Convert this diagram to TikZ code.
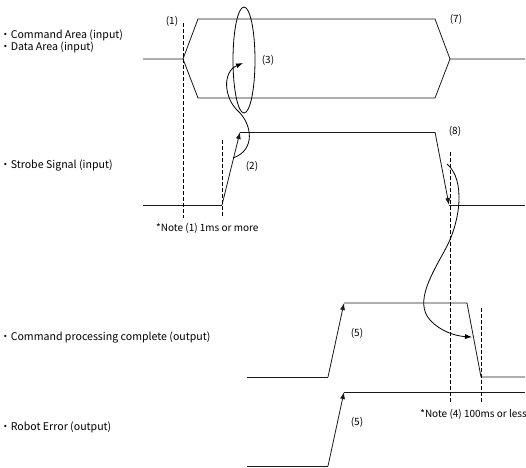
\documentclass[tikz,border=0pt]{standalone}
\usepackage{fontspec}
\setmainfont{Noto Sans CJK JP}
\usetikzlibrary{arrows.meta}

\tikzset{
  wave/.style={line width=0.8pt, black!90},
  guide/.style={line width=0.7pt, dash pattern=on 3.5pt off 2.5pt},
  tip/.style={-{Latex[length=7pt,width=5pt]}},
  sig/.style={anchor=west, inner sep=0pt, font=\fontsize{10.6}{12}\selectfont},
  note/.style={anchor=west, inner sep=0pt, font=\fontsize{10}{12}\selectfont},
  steplbl/.style={inner sep=0pt, font=\fontsize{10}{12}\selectfont},
}

\begin{document}
\begin{tikzpicture}[x=1pt, y=-1pt]
  \useasboundingbox (0,0) rectangle (526,467);

  % signal names
  \node[sig] (nCmd)  at (0,35)  {・Command Area (input)};
  \node[sig] (nData) at (0,47)  {・Data Area (input)};
  \node[sig] (nStb)  at (0,165) {・Strobe Signal (input)};
  \node[sig] (nDone) at (0,337) {・Command processing complete (output)};
  \node[sig] (nErr)  at (0,427) {・Robot Error (output)};

  % command / data area
  \draw[wave] (143,59) -- (183,59) -- (198,19) -- (435,19) -- (450,59) -- (525,59);
  \draw[wave] (183,59) -- (198,98) -- (435,98) -- (450,59);

  % strobe signal
  \coordinate (sLow) at (222,205);
  \coordinate (sUp)  at (240,132);
  \coordinate (sTop) at (435,132);
  \coordinate (sOff) at (449,205);
  \draw[wave] (143,205) -- (sLow);
  \draw[wave, tip] (sLow) -- (sUp);
  \draw[wave] (sUp) -- (sTop);
  \draw[wave, tip] (sTop) -- (sOff);
  \draw[wave] (sOff) -- (525,205);

  % command processing complete
  \coordinate (cLow) at (328,377);
  \coordinate (cUp)  at (344,303);
  \draw[wave] (247,377) -- (cLow);
  \draw[wave, tip] (cLow) -- (cUp);
  \draw[wave] (cUp) -- (467,303) -- (481,377) -- (525,377);

  % robot error
  \coordinate (eLow) at (328,466);
  \coordinate (eUp)  at (344,392);
  \draw[wave] (247,466) -- (eLow);
  \draw[wave, tip] (eLow) -- (eUp);
  \draw[wave] (eUp) -- (525,392);

  % timing guides
  \draw[guide] (183,23) -- (183,218);
  \draw[guide] (222,140) -- (222,218);
  \draw[guide] (450,152) -- (450,403);
  \draw[guide] (481,308) -- (481,403);

  % window (3)
  \draw[line width=0.8pt] (244,60) ellipse [x radius=11pt, y radius=53pt];

  % handshake curves
  \draw[line width=0.8pt, tip] (233,158) .. controls (256,150) and (252,124) .. (238,111)
    .. controls (224,98) and (222,72) .. (243,63);
  \draw[line width=0.8pt, tip] (447,164) .. controls (466,180) and (460,222) .. (446,248)
    .. controls (432,274) and (414,302) .. (430,320)
    .. controls (440,331) and (455,336) .. (472,337);

  % step labels
  \node[steplbl] (m1) at (172,21)  {(1)};
  \node[steplbl] (m2) at (252,166) {(2)};
  \node[steplbl] (m3) at (268,60)  {(3)};
  \node[steplbl] (m7) at (456,19)  {(7)};
  \node[steplbl] (m8) at (455,131) {(8)};
  \node[steplbl] (m5a) at (357,333) {(5)};
  \node[steplbl] (m5b) at (357,422) {(5)};

  % notes
  \node[note] (note1) at (156,228) {*Note (1) 1ms or more};
  \node[note, anchor=east] (note4) at (527,414) {*Note (4) 100ms or less};
\end{tikzpicture}
\end{document}
